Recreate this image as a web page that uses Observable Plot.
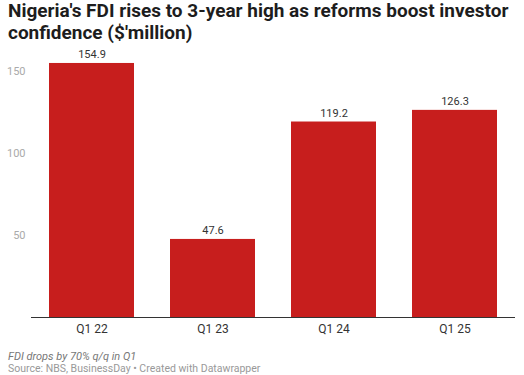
<!DOCTYPE html>
<html><head><meta charset="utf-8">
<script src="https://cdn.jsdelivr.net/npm/d3@7"></script>
<script src="https://cdn.jsdelivr.net/npm/@observablehq/plot@0.6"></script>
<style>
body{margin:0;background:#fff;font-family:Roboto,sans-serif;overflow:hidden;}
#title{font-weight:700;font-size:19px;line-height:22px;color:#1d1d1d;padding:0 0 0 8px;margin:0;height:45px;}
#cap{font-style:italic;font-size:11px;color:#777;padding-left:8px;margin-top:5px;line-height:13px;}
#src{font-size:10.5px;color:#999;padding-left:8px;line-height:12px;}
</style></head><body>
<div id="title">Nigeria's FDI rises to 3-year high as reforms boost investor confidence ($'million)</div>
<div id="chart"></div>
<div id="cap">FDI drops by 70% q/q in Q1</div>
<div id="src">Source: NBS, BusinessDay • Created with Datawrapper</div>
<script>
const quarters = ["Q1 22","Q1 23","Q1 24","Q1 25"];
const fdi = [154.9, 47.6, 119.2, 126.3];
const yTicks = [50, 100, 150];
const data = quarters.map((q,i)=>({q, v: fdi[i]}));
const chart = Plot.plot({
  width: 524, height: 300,
  marginLeft: 31, marginRight: 9, marginTop: 26, marginBottom: 28,
  style: {fontFamily: "Roboto, sans-serif", fontSize: "11px", background: "#fff"},
  x: {domain: quarters, paddingInner: 0.3, paddingOuter: 0.15, label: null, tickSize: 0},
  y: {domain: [0,150], label: null},
  marks: [
    Plot.gridY(yTicks, {stroke: "#e5e5e5", strokeOpacity: 1, x1: 31, x2: 515}),
    Plot.axisY(yTicks, {tickSize: 0, tickPadding: 6, fill: "#aaa", fontSize: 11, label: null}),
    Plot.barY(data, {x: "q", y: "v", fill: "#c71e1d"}),
    Plot.text(data, {x: "q", y: "v", text: d => d.v.toFixed(1), dy: -9, fill: "#333", fontSize: 11}),
    Plot.ruleY([0], {stroke: "#333", strokeWidth: 1}),
    Plot.axisX({tickSize: 0, tickPadding: 7, fill: "#333", fontSize: 12, label: null})
  ]
});
document.getElementById("chart").appendChild(chart);
</script>
</body></html>
